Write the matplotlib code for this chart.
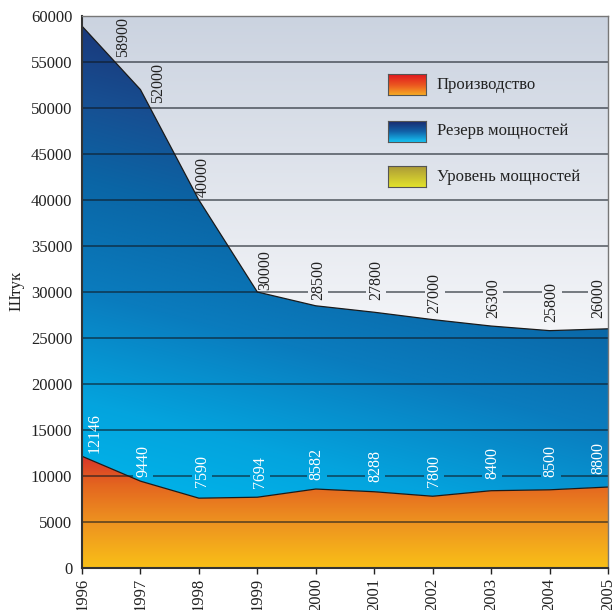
import numpy as np
import matplotlib
matplotlib.use('Agg')
import matplotlib.pyplot as plt
from matplotlib.colors import to_rgb
from matplotlib.patches import Polygon

# ---------------- data ----------------
years = [1996, 1997, 1998, 1999, 2000, 2001, 2002, 2003, 2004, 2005]
production = [12146, 9440, 7590, 7694, 8582, 8288, 7800, 8400, 8500, 8800]
capacity = [58900, 52000, 40000, 30000, 28500, 27800, 27000, 26300, 25800, 26000]
y_ticks = [0, 5000, 10000, 15000, 20000, 25000, 30000, 35000,
           40000, 45000, 50000, 55000, 60000]
legend_labels = ['Производство', 'Резерв мощностей', 'Уровень мощностей']
y_label = 'Штук'

# label offsets in pixels (styling only)
upper_dx = [41, 18, 4, 8, 2, 2, 2, 2, 2, -10]
upper_dy = [14, 21, 9, 4, 6, 12, 7, 8, 9, 11]
lower_dx = [13, 3, 3, 3, 1, 1, 1, 1, 1, -10]
lower_dy = [9, 5, 11, 9, 9, 10, 9, 12, 13, 14]

plt.rcParams['font.family'] = ['Liberation Serif', 'DejaVu Serif']

W, H = 613, 610
L, R, T, B = 82, 608, 16, 568
fig = plt.figure(figsize=(W / 100, H / 100), dpi=100)
ax = fig.add_axes([L / W, 1 - B / H, (R - L) / W, (B - T) / H])
x0, x1 = years[0], years[-1]
ymax = y_ticks[-1]
ax.set_xlim(x0, x1)
ax.set_ylim(0, ymax)
px_per_year = (R - L) / (x1 - x0)
px_per_val = (B - T) / ymax


def grad(t, stops):
    t = np.asarray(t, dtype=float)
    pos = [s[0] for s in stops]
    cols = np.array([to_rgb(s[1]) for s in stops])
    out = np.stack([np.interp(t, pos, cols[:, k]) for k in range(3)], axis=-1)
    return out


bg_stops = [(0.0, '#f5f6f9'), (0.43, '#f4f5f8'), (1.0, '#cbd3e0')]
blue_stops = [(0.0, '#00b8ee'), (0.15, '#00b4ea'), (0.3, '#04a4de'),
              (0.5, '#0a7cbe'), (0.7, '#0a66a6'), (0.85, '#174f92'),
              (1.0, '#1a3678')]
orange_stops = [(0.0, '#f9c017'), (0.08, '#ee9420'), (0.15, '#e4661f'),
                (0.2, '#d8362a'), (1.0, '#d8362a')]


def blue_t(u, v):
    return v + 0.25 * u


nx, ny = 400, 800
xs = np.linspace(x0, x1, nx)
ys = np.linspace(0, ymax, ny)
X, Y = np.meshgrid(xs, ys)
U = (X - x0) / (x1 - x0)
V = Y / ymax

ext = [x0, x1, 0, ymax]
ax.imshow(grad(V, bg_stops), extent=ext, origin='lower', aspect='auto',
          zorder=0, interpolation='bilinear')

blue_poly = Polygon(list(zip(years, capacity)) + list(zip(years, production))[::-1],
                    closed=True, fc='none', ec='none', transform=ax.transData)
ax.add_patch(blue_poly)
im_b = ax.imshow(grad(blue_t(U, V), blue_stops), extent=ext, origin='lower',
                 aspect='auto', zorder=1, interpolation='bilinear')
im_b.set_clip_path(blue_poly)

orange_poly = Polygon(list(zip(years, production)) + [(x1, 0), (x0, 0)],
                      closed=True, fc='none', ec='none', transform=ax.transData)
ax.add_patch(orange_poly)
im_o = ax.imshow(grad(V, orange_stops), extent=ext, origin='lower',
                 aspect='auto', zorder=1, interpolation='bilinear')
im_o.set_clip_path(orange_poly)

ax.plot(years, capacity, color='#1a1a1a', lw=0.9, zorder=3)
ax.plot(years, production, color='#1a1a1a', lw=0.9, zorder=3)

LABEL_FS = 11.5
GAP_HALF = 10 / px_per_year      # half-width of gridline gap around a label
gaps = {g: [] for g in y_ticks[1:-1]}


def put_labels(values, dxs, dys, color):
    em_px = LABEL_FS * 100 / 72
    for i, (yr, val, dx, dy) in enumerate(zip(years, values, dxs, dys)):
        txt = f'{val}'
        xl = yr + dx / px_per_year
        yl = np.interp(xl, years, values)
        ybot = yl + dy / px_per_val
        length = len(txt) * 0.5 * em_px / px_per_val
        ytop = ybot + length
        if i > 0:
            for g in gaps:
                if ybot < g < ytop:
                    gaps[g].append((xl - GAP_HALF, xl + GAP_HALF))
        ax.annotate(txt, xy=(xl, ybot), rotation=90, ha='center',
                    va='bottom', fontsize=LABEL_FS, color=color, zorder=5)


put_labels(capacity, upper_dx, upper_dy, '#222222')
put_labels(production, lower_dx, lower_dy, 'white')

# grid lines on top of fills, interrupted around crossing labels
for g, glist in gaps.items():
    start = x0
    for a, b in sorted(glist):
        if a > start:
            ax.plot([start, a], [g, g], color='#101820', alpha=0.55, lw=1.4,
                    zorder=2.5, solid_capstyle='butt')
        start = max(start, b)
    if start < x1:
        ax.plot([start, x1], [g, g], color='#101820', alpha=0.55, lw=1.4,
                zorder=2.5, solid_capstyle='butt')

# axes styling
ax.set_yticks(y_ticks)
ax.set_yticklabels([str(t) for t in y_ticks])
ax.set_xticks(years)
ax.set_xticklabels([str(y) for y in years], rotation=90)
ax.tick_params(axis='y', length=0, pad=7, labelsize=12, colors='#222222')
ax.tick_params(axis='x', length=4, pad=3, labelsize=12, colors='#222222',
               width=1.0)
for s in ['left', 'bottom']:
    ax.spines[s].set_color('#333333')
    ax.spines[s].set_linewidth(1.5)
for s in ['top', 'right']:
    ax.spines[s].set_color('#777777')
    ax.spines[s].set_linewidth(1.0)
for s in ax.spines.values():
    s.set_zorder(6)

fig.text(17 / W, 1 - 291 / H, y_label, rotation=90, ha='center', va='center',
         fontsize=12, color='#222222')

# legend
leg_grads = [
    [(0.0, '#f6aa24'), (0.45, '#ec5a20'), (1.0, '#e0161f')],
    [(0.0, '#16c2f2'), (0.5, '#1262a8'), (1.0, '#1a2a6e')],
    [(0.0, '#e2e22a'), (0.5, '#c6bc32'), (1.0, '#a89638')],
]
leg_tops = [74, 121, 166]
leg_text_y = [85, 131, 177]
gcol = np.linspace(0, 1, 64).reshape(-1, 1)
for top, ty, lab, gs in zip(leg_tops, leg_text_y, legend_labels, leg_grads):
    lax = fig.add_axes([388 / W, 1 - (top + 21) / H, 38 / W, 21 / H])
    lax.imshow(grad(gcol, gs), origin='lower', aspect='auto',
               extent=[0, 1, 0, 1], interpolation='bilinear')
    lax.set_xticks([])
    lax.set_yticks([])
    for s in lax.spines.values():
        s.set_color('#555555')
        s.set_linewidth(0.8)
    fig.text(437 / W, 1 - ty / H, lab, ha='left', va='center', fontsize=12,
             color='#222222')

fig.savefig('out.png', dpi=100)
